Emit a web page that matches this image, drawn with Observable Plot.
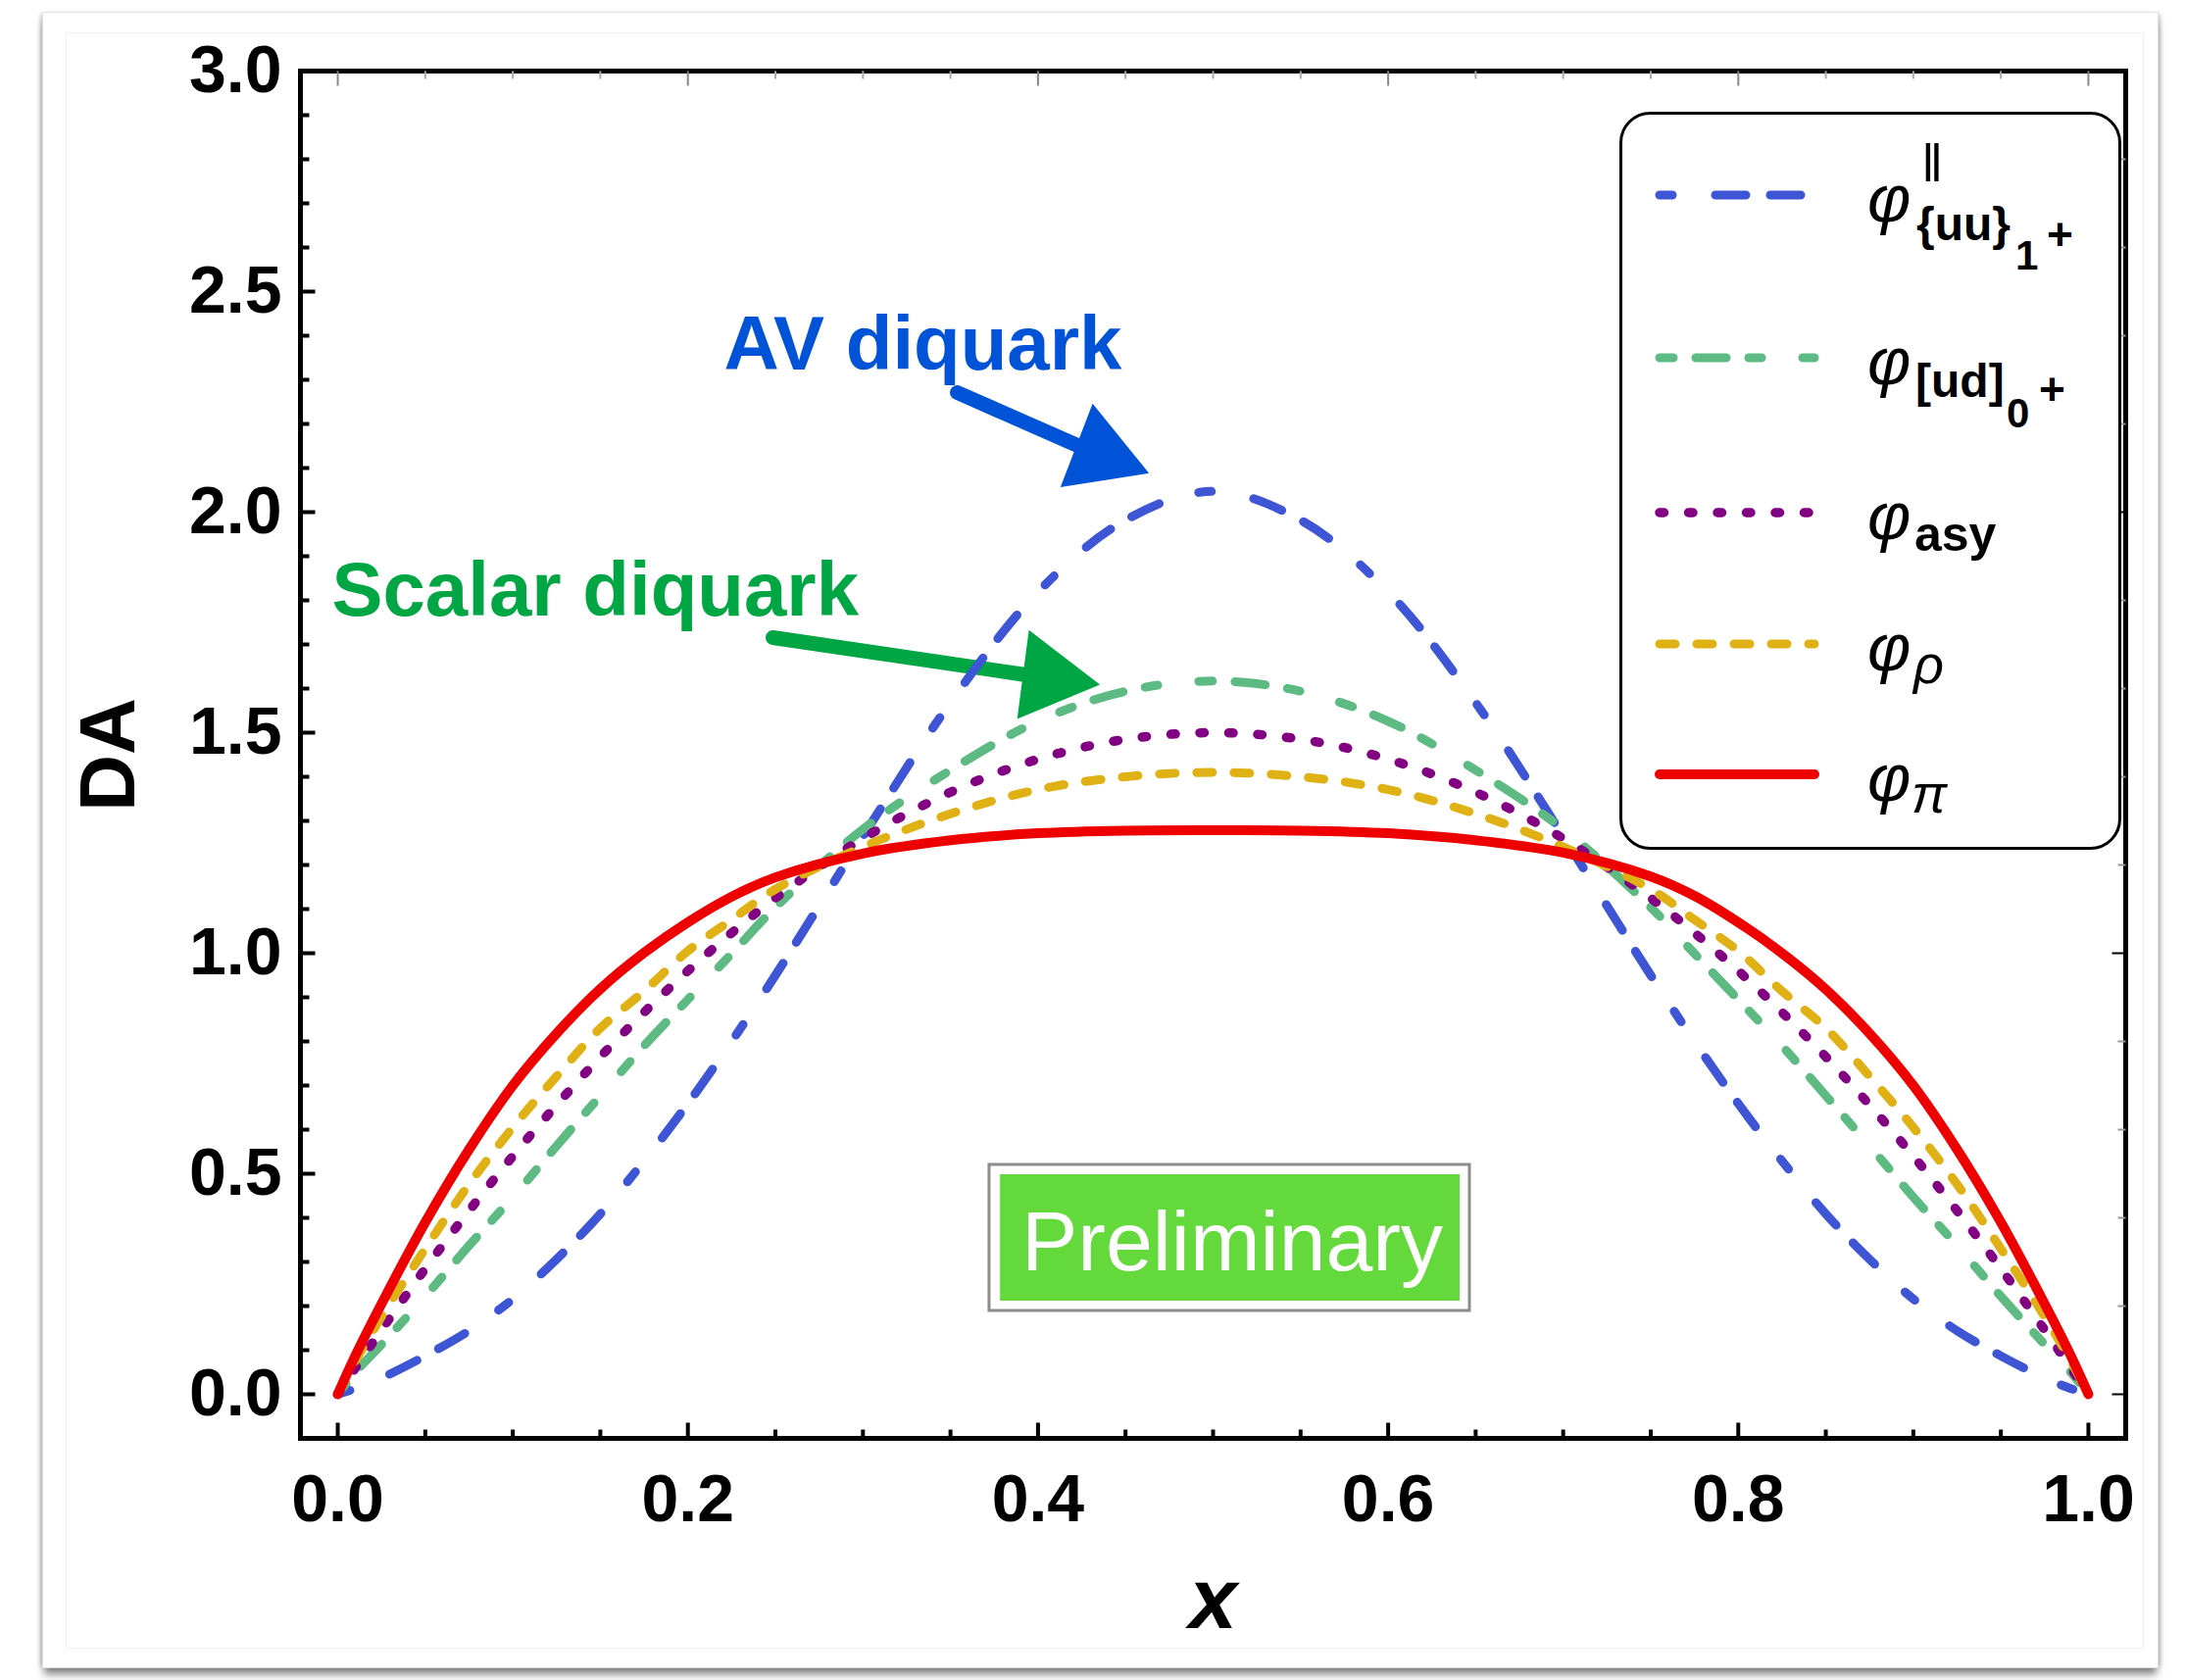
<!DOCTYPE html>
<html>
<head>
<meta charset="utf-8">
<script src="https://cdn.jsdelivr.net/npm/d3@7"></script>
<script src="https://cdn.jsdelivr.net/npm/@observablehq/plot@0.6"></script>
<style>
  html, body { margin: 0; padding: 0; background: #ffffff; }
  body { width: 2229px; height: 1714px; position: relative; overflow: hidden; font-family: "Liberation Sans", Arial, sans-serif; }
  .outer { position: absolute; left: 43px; top: 12px; width: 2157px; height: 1688px; background: #fff;
           border: 1px solid #e2e2e2;
           box-shadow: 0 8px 8px -2px rgba(0,0,0,0.5), -4px 0 4px -2px rgba(0,0,0,0.18), 4px 0 4px -2px rgba(0,0,0,0.18); }
  .inner { position: absolute; left: 67px; top: 33px; width: 2118px; height: 1647px; border: 1px solid #f1f1f1; }
  #chart { position: absolute; left: 0; top: 0; }
  #legend { position: absolute; left: 1652px; top: 114px; }
</style>
</head>
<body>
<div class="outer"></div>
<div class="inner"></div>
<div id="chart"></div>
<div id="legend"></div>
<script>
// ---------------- data ----------------
const xs = [0, 0.01, 0.025, 0.05, 0.075, 0.1, 0.125, 0.15, 0.175, 0.2, 0.225, 0.25, 0.3, 0.35, 0.4, 0.45, 0.5,
            0.55, 0.6, 0.65, 0.7, 0.75, 0.775, 0.8, 0.825, 0.85, 0.875, 0.9, 0.925, 0.95, 0.975, 0.99, 1];

const phiAV = [0, 0.013, 0.037, 0.087, 0.144, 0.216, 0.306, 0.409, 0.529, 0.659, 0.80, 0.95, 1.265, 1.568, 1.819, 1.982, 2.047,
               1.982, 1.819, 1.568, 1.265, 0.95, 0.80, 0.659, 0.529, 0.409, 0.306, 0.216, 0.144, 0.087, 0.037, 0.013, 0];

const phiScalar = [0, 0.05, 0.113, 0.222, 0.337, 0.447, 0.563, 0.677, 0.79, 0.895, 0.999, 1.104, 1.281, 1.415, 1.526, 1.594, 1.617,
                   1.594, 1.526, 1.415, 1.281, 1.104, 0.999, 0.895, 0.79, 0.677, 0.563, 0.447, 0.337, 0.222, 0.113, 0.05, 0];

const phiAsy = [0, 0.0594, 0.146, 0.285, 0.416, 0.54, 0.656, 0.765, 0.866, 0.96, 1.046, 1.125, 1.26, 1.365, 1.44, 1.485, 1.5,
                1.485, 1.44, 1.365, 1.26, 1.125, 1.046, 0.96, 0.866, 0.765, 0.656, 0.54, 0.416, 0.285, 0.146, 0.0594, 0];

const phiRho = [0, 0.075, 0.176, 0.33, 0.476, 0.605, 0.721, 0.83, 0.914, 1.005, 1.076, 1.145, 1.241, 1.316, 1.371, 1.40, 1.41,
                1.40, 1.371, 1.316, 1.241, 1.145, 1.076, 1.005, 0.914, 0.83, 0.721, 0.605, 0.476, 0.33, 0.176, 0.075, 0];

const phiPi = [0, 0.087, 0.205, 0.39, 0.555, 0.70, 0.818, 0.919, 1.001, 1.07, 1.128, 1.172, 1.226, 1.256, 1.272, 1.278, 1.279,
               1.278, 1.272, 1.256, 1.228, 1.174, 1.13, 1.07, 1.0, 0.918, 0.818, 0.70, 0.555, 0.39, 0.205, 0.087, 0];

const xTicks = [0, 0.2, 0.4, 0.6, 0.8, 1.0];
const xTickLabels = ["0.0", "0.2", "0.4", "0.6", "0.8", "1.0"];
const xMinorTicks = [0.05, 0.1, 0.15, 0.25, 0.3, 0.35, 0.45, 0.5, 0.55, 0.65, 0.7, 0.75, 0.85, 0.9, 0.95];
const yTicks = [0, 0.5, 1.0, 1.5, 2.0, 2.5, 3.0];
const yTickLabels = ["0.0", "0.5", "1.0", "1.5", "2.0", "2.5", "3.0"];
const yMinorTicks = [0.1, 0.2, 0.3, 0.4, 0.6, 0.7, 0.8, 0.9, 1.1, 1.2, 1.3, 1.4, 1.6, 1.7, 1.8, 1.9, 2.1, 2.2, 2.3, 2.4, 2.6, 2.7, 2.8, 2.9];
const topTicks = [0, 0.2, 0.4, 0.6, 0.8, 1.0];
const topMinorTicks = xMinorTicks;
const rightTicksBlack = [0, 1, 2, 3];
const rightTicksGray = [0.2, 0.4, 0.6, 0.8, 1.2, 1.4, 1.6, 1.8, 2.2, 2.4, 2.6, 2.8];

const seriesNames = ["av", "scalar", "asy", "rho", "pi"];
const seriesColors = ["#3e56d6", "#5cba82", "#820082", "#dfb114", "#ee0000"];

// annotations (data coordinates)
const noteTexts = ["AV diquark", "Scalar diquark"];
const noteX = [0.2206, -0.0034];
const noteY = [2.378, 1.82];
const noteColors = ["#0052d6", "#00a544"];
const arrowShafts = [
  {x1: 0.3539, y1: 2.2711, x2: 0.4250, y2: 2.1470, c: "#0052d6"},
  {x1: 0.2486, y1: 1.7156, x2: 0.3950, y2: 1.6300, c: "#00a544"}
];
const arrowHeads = [{x: 0.4358, y: 2.1304, rot: 111, c: "#0052d6"}, {x: 0.4061, y: 1.6244, rot: 97.5, c: "#00a544"}];
const prelimBox = [{x1: 0.3723, x2: 0.6467, y1: 0.1889, y2: 0.52}];
const prelimFill = [{x1: 0.3786, x2: 0.6411, y1: 0.2111, y2: 0.4978}];
const prelimText = [{x: 0.5109, y: 0.3433, t: "Preliminary"}];

// ---------------- build ----------------
const table = xs.map((x, i) => ({x, av: phiAV[i], scalar: phiScalar[i], asy: phiAsy[i], rho: phiRho[i], pi: phiPi[i]}));

const styles = {
  av:     {dash: "13,44,31,25,31,42", w: 9},
  scalar: {dash: "14,23,31,23,13,42", w: 9},
  asy:    {dash: "4.5,25", w: 9.5},
  rho:    {dash: "16,22", w: 9},
  pi:     {dash: null, w: 10}
};

const tickShape = {draw(context, l) { context.moveTo(0, 0); context.lineTo(0, -l); }};
const FONT = "'Liberation Sans', Arial, Helvetica, sans-serif";

const lineMarks = seriesNames.map((k, i) => Plot.line(table, {
  x: "x", y: k, stroke: seriesColors[i], strokeWidth: styles[k].w,
  strokeDasharray: styles[k].dash, strokeLinecap: "round", strokeLinejoin: "round",
  curve: "catmull-rom"
}));

const chart = Plot.plot({
  width: 2229,
  height: 1714,
  marginLeft: 306,
  marginRight: 61,
  marginTop: 72,
  marginBottom: 247,
  x: {domain: [-0.0213, 1.0213]},
  y: {domain: [-0.1, 3.0]},
  style: {fontFamily: FONT, background: "transparent", color: "black", overflow: "visible"},
  marks: [
    // Preliminary stamp
    Plot.rect(prelimBox, {x1: "x1", x2: "x2", y1: "y1", y2: "y2", fill: "white", stroke: "#8c8c8c", strokeWidth: 3}),
    Plot.rect(prelimFill, {x1: "x1", x2: "x2", y1: "y1", y2: "y2", fill: "#63d93b"}),
    Plot.text(prelimText, {x: "x", y: "y", text: "t", fill: "white", fontSize: 86, fontFamily: FONT, textAnchor: "middle", lineAnchor: "middle"}),
    // arrows
    Plot.link(arrowShafts, {x1: "x1", y1: "y1", x2: "x2", y2: "y2", stroke: "c", strokeWidth: 15, strokeLinecap: "round"}),
    Plot.dot(arrowHeads, {x: "x", y: "y", symbol: "triangle", r: 32, rotate: "rot", fill: "c", stroke: "c", strokeWidth: 3}),
    // curves
    ...lineMarks,
    // annotation texts
    Plot.text(noteTexts, {x: (d, i) => noteX[i], y: (d, i) => noteY[i], text: d => d, fill: (d, i) => noteColors[i],
      fontSize: 78, fontWeight: "bold", fontFamily: FONT, textAnchor: "start", lineAnchor: "middle"}),
    // frame
    Plot.frame({stroke: "black", strokeWidth: 5}),
    // left ticks (inward)
    Plot.vector(yTicks, {y: d => d, frameAnchor: "left", length: 15, rotate: 90, anchor: "start", shape: tickShape, stroke: "black", strokeWidth: 4, strokeLinecap: "butt"}),
    Plot.vector(yMinorTicks, {y: d => d, frameAnchor: "left", length: 9, rotate: 90, anchor: "start", shape: tickShape, stroke: "black", strokeWidth: 4, strokeLinecap: "butt"}),
    // bottom ticks
    Plot.vector(xTicks, {x: d => d, frameAnchor: "bottom", length: 16, rotate: 0, anchor: "start", shape: tickShape, stroke: "black", strokeWidth: 4, strokeLinecap: "butt"}),
    Plot.vector(xMinorTicks, {x: d => d, frameAnchor: "bottom", length: 9, rotate: 0, anchor: "start", shape: tickShape, stroke: "black", strokeWidth: 4, strokeLinecap: "butt"}),
    // top ticks (thin, gray)
    Plot.vector(topTicks, {x: d => d, frameAnchor: "top", length: 15, rotate: 180, anchor: "start", shape: tickShape, stroke: "#888", strokeWidth: 2, strokeLinecap: "butt"}),
    Plot.vector(topMinorTicks, {x: d => d, frameAnchor: "top", length: 8, rotate: 180, anchor: "start", shape: tickShape, stroke: "#aaa", strokeWidth: 2, strokeLinecap: "butt"}),
    // right ticks
    Plot.vector(rightTicksBlack, {y: d => d, frameAnchor: "right", length: 14, rotate: -90, anchor: "start", shape: tickShape, stroke: "black", strokeWidth: 2, strokeLinecap: "butt"}),
    Plot.vector(rightTicksGray, {y: d => d, frameAnchor: "right", length: 8, rotate: -90, anchor: "start", shape: tickShape, stroke: "#999", strokeWidth: 2, strokeLinecap: "butt"}),
    // axes labels
    Plot.axisY({ticks: yTicks, anchor: "left", tickSize: 0, tickPadding: 19, label: null,
      tickFormat: d => yTickLabels[yTicks.indexOf(d)], fontSize: 68, fontWeight: "bold", fontFamily: FONT}),
    Plot.axisX({ticks: xTicks, anchor: "bottom", tickSize: 0, tickPadding: 36, label: null,
      tickFormat: d => xTickLabels[xTicks.indexOf(d)], fontSize: 68, fontWeight: "bold", fontFamily: FONT}),
    Plot.text(["DA"], {frameAnchor: "left", dx: -195, rotate: -90, text: d => d, fontSize: 80, fontWeight: "bold", fontFamily: FONT, textAnchor: "middle", lineAnchor: "middle"}),
    Plot.text(["x"], {frameAnchor: "bottom", dy: 165, text: d => d, fontSize: 88, fontWeight: "bold", fontStyle: "italic", fontFamily: FONT, textAnchor: "middle", lineAnchor: "middle"})
  ]
});

document.getElementById("chart").appendChild(chart);

// ---------------- legend ----------------
const legendRowsY = [85, 251, 409, 543, 676];
const legendDash = seriesNames.map(k => styles[k]);
let lg = '<svg xmlns="http://www.w3.org/2000/svg" width="515" height="756" style="overflow:visible">';
lg += '<rect x="1.5" y="1.5" width="509" height="750" rx="30" ry="30" fill="white" stroke="black" stroke-width="3"/>';
seriesNames.forEach((k, i) => {
  const y = legendRowsY[i];
  lg += `<line x1="41" x2="199" y1="${y}" y2="${y}" stroke="${seriesColors[i]}" stroke-width="${legendDash[i].w}" stroke-linecap="round"` +
        (legendDash[i].dash ? ` stroke-dasharray="${legendDash[i].dash}"` : '') + '/>';
});
const FF = FONT.replace(/'/g, '&quot;');
const phiStyle = `font-family:${FF};font-style:italic;font-size:68px`;
const subB = (sz) => `font-family:${FF};font-weight:bold;font-size:${sz}px`;
const subN = (sz) => `font-family:${FF};font-size:${sz}px`;
const subI = (sz) => `font-family:${FF};font-style:italic;font-size:${sz}px`;
// row 1: phi^{||}_{{uu}_{1+}}
let r = legendRowsY[0];
lg += `<text x="253" y="${r + 27}" style="${phiStyle}">φ</text>`;
lg += `<text x="308" y="${r - 14}" style="${subN(54)}">‖</text>`;
lg += `<text x="303" y="${r + 46}" style="${subB(48)}">{uu}</text>`;
lg += `<text x="404" y="${r + 76}" style="${subB(42)}">1</text>`;
lg += `<text x="436" y="${r + 56}" style="${subB(46)}">+</text>`;
// row 2: phi_{[ud]_{0+}}
r = legendRowsY[1];
lg += `<text x="253" y="${r + 27}" style="${phiStyle}">φ</text>`;
lg += `<text x="302" y="${r + 40}" style="${subB(48)}">[ud]</text>`;
lg += `<text x="395" y="${r + 71}" style="${subB(42)}">0</text>`;
lg += `<text x="428" y="${r + 48}" style="${subB(46)}">+</text>`;
// row 3: phi_asy
r = legendRowsY[2];
lg += `<text x="253" y="${r + 27}" style="${phiStyle}">φ</text>`;
lg += `<text x="301" y="${r + 39}" style="${subB(50)}">asy</text>`;
// row 4: phi_rho
r = legendRowsY[3];
lg += `<text x="253" y="${r + 27}" style="${phiStyle}">φ</text>`;
lg += `<text x="300" y="${r + 40}" style="${subI(54)}">ρ</text>`;
// row 5: phi_pi
r = legendRowsY[4];
lg += `<text x="253" y="${r + 27}" style="${phiStyle}">φ</text>`;
lg += `<text x="298" y="${r + 39}" style="${subI(54)}">π</text>`;
lg += '</svg>';
document.getElementById("legend").innerHTML = lg;
</script>
</body>
</html>
